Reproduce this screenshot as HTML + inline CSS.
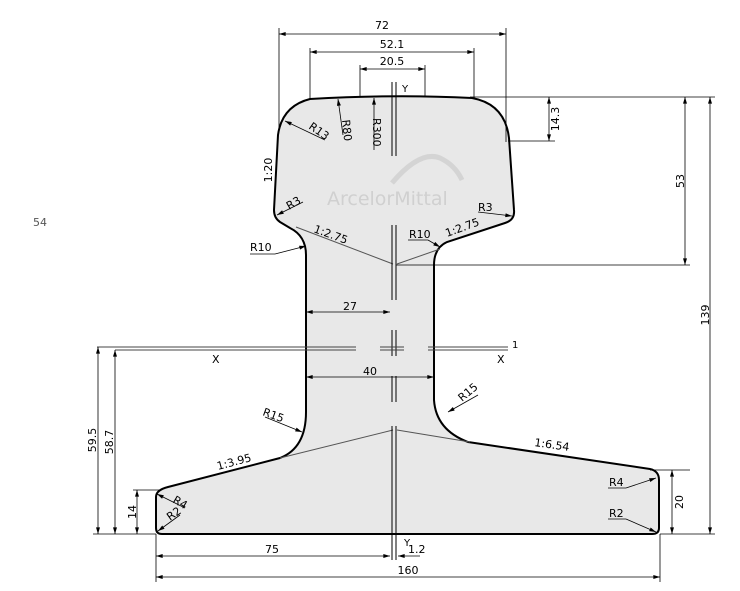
<!DOCTYPE html>
<html><head><meta charset="utf-8"><style>
html,body{margin:0;padding:0;background:#fff;}
svg{display:block}
text{font-family:"DejaVu Sans","Liberation Sans",sans-serif;font-size:11px;fill:#000}
</style></head><body>
<svg width="740" height="591" viewBox="0 0 740 591" xmlns="http://www.w3.org/2000/svg">
<defs>
<marker id="a" viewBox="0 0 10 6" refX="10" refY="3" markerWidth="8" markerHeight="4" orient="auto-start-reverse" markerUnits="userSpaceOnUse"><path d="M0,0 L10,3 L0,6 z" fill="#000"/></marker>
</defs>
<text x="33" y="226" style="font-size:11px;fill:#555">54</text>
<path d="M310,99 Q395,94 472,98 Q505,104 509,138 L514,210 Q515,220 505,223 L447,242 Q434,248 434,265 L434,400 Q436,430 468,442 L650,469 Q659,471 659,480 L659,528 Q659,534 652,534 L162,534 Q156,534 156,528 L156,497 Q156,490 168,487 L280,458 Q306,448 306,412 L306,255 Q306,236 290,228 L280,222 Q274,218 274,210 L278,135 Q282,106 310,99 Z" fill="#e8e8e8" stroke="#000" stroke-width="2"/>
<text x="327" y="205" style="font-size:19px;fill:#d0d0d0">ArcelorMittal</text>
<path d="M392,183 Q420,150 440,158 Q455,165 462,180" fill="none" stroke="#d4d4d4" stroke-width="5"/>
<g stroke="#555" stroke-width="1" fill="none">
<line x1="296" y1="227" x2="393" y2="264"/><line x1="397" y1="264" x2="440" y2="249"/>
<line x1="280" y1="458" x2="393" y2="430"/><line x1="397" y1="430" x2="470" y2="442"/>
</g>
<g stroke="#000" stroke-width="1">
<line x1="392" y1="82" x2="392" y2="156"/><line x1="396" y1="82" x2="396" y2="156"/>
<line x1="392" y1="225" x2="392" y2="300"/><line x1="396" y1="225" x2="396" y2="300"/>
<line x1="392" y1="330" x2="392" y2="356"/><line x1="396" y1="330" x2="396" y2="356"/>
<line x1="392" y1="376" x2="392" y2="402"/><line x1="396" y1="376" x2="396" y2="402"/>
<line x1="392" y1="426" x2="392" y2="560"/><line x1="396" y1="426" x2="396" y2="560"/>
</g>
<g stroke="#444" stroke-width="1">
<line x1="97" y1="347" x2="356" y2="347"/><line x1="115" y1="350" x2="356" y2="350"/>
<line x1="380" y1="347" x2="404" y2="347"/><line x1="380" y1="350" x2="404" y2="350"/>
<line x1="428" y1="347" x2="508" y2="347"/><line x1="428" y1="350" x2="508" y2="350"/>
</g>
<text x="212" y="363">X</text><text x="497" y="363">X</text><text x="512" y="348" style="font-size:10px">1</text>
<text x="402" y="92" style="font-size:10px">Y</text><text x="404" y="546" style="font-size:10px">Y</text>
<g stroke="#000" stroke-width="0.8" fill="none">
<line x1="279" y1="28" x2="279" y2="130"/><line x1="506" y1="28" x2="506" y2="142"/>
<line x1="279" y1="34" x2="506" y2="34" marker-start="url(#a)" marker-end="url(#a)"/>
<line x1="310" y1="48" x2="310" y2="99"/><line x1="474" y1="48" x2="474" y2="99"/>
<line x1="310" y1="52" x2="474" y2="52" marker-start="url(#a)" marker-end="url(#a)"/>
<line x1="360" y1="65" x2="360" y2="97"/><line x1="425" y1="65" x2="425" y2="97"/>
<line x1="360" y1="69" x2="425" y2="69" marker-start="url(#a)" marker-end="url(#a)"/>
<line x1="470" y1="97" x2="715" y2="97"/><line x1="508" y1="141" x2="555" y2="141"/>
<line x1="549" y1="97" x2="549" y2="141" marker-start="url(#a)" marker-end="url(#a)"/>
<line x1="396" y1="265" x2="690" y2="265"/>
<line x1="685" y1="97" x2="685" y2="265" marker-start="url(#a)" marker-end="url(#a)"/>
<line x1="660" y1="534" x2="715" y2="534"/>
<line x1="710" y1="97" x2="710" y2="534" marker-start="url(#a)" marker-end="url(#a)"/>
<line x1="650" y1="470" x2="690" y2="470"/>
<line x1="672" y1="470" x2="672" y2="534" marker-start="url(#a)" marker-end="url(#a)"/>
<line x1="93" y1="534" x2="156" y2="534"/>
<line x1="98" y1="347" x2="98" y2="534" marker-start="url(#a)" marker-end="url(#a)"/>
<line x1="115" y1="350" x2="115" y2="534" marker-start="url(#a)" marker-end="url(#a)"/>
<line x1="133" y1="490" x2="162" y2="490"/>
<line x1="137" y1="490" x2="137" y2="534" marker-start="url(#a)" marker-end="url(#a)"/>
<line x1="156" y1="534" x2="156" y2="582"/><line x1="660" y1="534" x2="660" y2="582"/>
<line x1="156" y1="556" x2="390" y2="556" marker-start="url(#a)" marker-end="url(#a)"/>
<line x1="398" y1="556" x2="420" y2="556" marker-start="url(#a)"/>
<line x1="156" y1="577" x2="660" y2="577" marker-start="url(#a)" marker-end="url(#a)"/>
<line x1="306" y1="312" x2="390" y2="312" marker-start="url(#a)" marker-end="url(#a)"/>
<line x1="306" y1="377" x2="434" y2="377" marker-start="url(#a)" marker-end="url(#a)"/>
<line x1="325" y1="140" x2="285" y2="121" marker-end="url(#a)"/>
<line x1="343" y1="135" x2="338" y2="99" marker-end="url(#a)"/>
<line x1="374" y1="150" x2="374" y2="98" marker-end="url(#a)"/>
<line x1="303" y1="202" x2="277" y2="215" marker-end="url(#a)"/>
<line x1="478" y1="212" x2="512" y2="216" marker-end="url(#a)"/>
<line x1="250" y1="254" x2="275" y2="254"/><line x1="275" y1="254" x2="306" y2="246" marker-end="url(#a)"/>
<line x1="408" y1="240" x2="428" y2="240"/><line x1="428" y1="240" x2="440" y2="247" marker-end="url(#a)"/>
<line x1="265" y1="417" x2="302" y2="432" marker-end="url(#a)"/>
<line x1="478" y1="395" x2="448" y2="412" marker-end="url(#a)"/>
<line x1="185" y1="508" x2="157" y2="494" marker-end="url(#a)"/>
<line x1="180" y1="515" x2="158" y2="531" marker-end="url(#a)"/>
<line x1="608" y1="488" x2="626" y2="488"/><line x1="626" y1="488" x2="656" y2="478" marker-end="url(#a)"/>
<line x1="608" y1="519" x2="626" y2="519"/><line x1="626" y1="519" x2="656" y2="532" marker-end="url(#a)"/>
</g>
<text x="382" y="29" text-anchor="middle">72</text>
<text x="392" y="48" text-anchor="middle">52.1</text>
<text x="392" y="65" text-anchor="middle">20.5</text>
<text x="350" y="310" text-anchor="middle">27</text>
<text x="370" y="375" text-anchor="middle">40</text>
<text x="272" y="553" text-anchor="middle">75</text>
<text x="408" y="553">1.2</text>
<text x="408" y="574" text-anchor="middle">160</text>
<text transform="translate(559,119) rotate(-90)" text-anchor="middle">14.3</text>
<text transform="translate(684,181) rotate(-90)" text-anchor="middle">53</text>
<text transform="translate(709,315) rotate(-90)" text-anchor="middle">139</text>
<text transform="translate(683,502) rotate(-90)" text-anchor="middle">20</text>
<text transform="translate(96,440) rotate(-90)" text-anchor="middle">59.5</text>
<text transform="translate(113,442) rotate(-90)" text-anchor="middle">58.7</text>
<text transform="translate(136,512) rotate(-90)" text-anchor="middle">14</text>
<text transform="translate(272,170) rotate(-90)" text-anchor="middle">1:20</text>
<text transform="translate(308,128) rotate(35)">R13</text>
<text transform="translate(342,120) rotate(84)">R80</text>
<text transform="translate(373,118) rotate(90)">R300</text>
<text transform="translate(289,210) rotate(-30)">R3</text>
<text x="478" y="211">R3</text>
<text x="250" y="251">R10</text>
<text x="409" y="238">R10</text>
<text transform="translate(313,232) rotate(20)">1:2.75</text>
<text transform="translate(447,237) rotate(-20)">1:2.75</text>
<text transform="translate(262,415) rotate(20)">R15</text>
<text transform="translate(462,402) rotate(-40)">R15</text>
<text transform="translate(218,470) rotate(-15)">1:3.95</text>
<text transform="translate(534,446) rotate(8)">1:6.54</text>
<text transform="translate(172,502) rotate(30)">R4</text>
<text transform="translate(170,521) rotate(-35)">R2</text>
<text x="609" y="486">R4</text>
<text x="609" y="517">R2</text>
</svg>
</body></html>
